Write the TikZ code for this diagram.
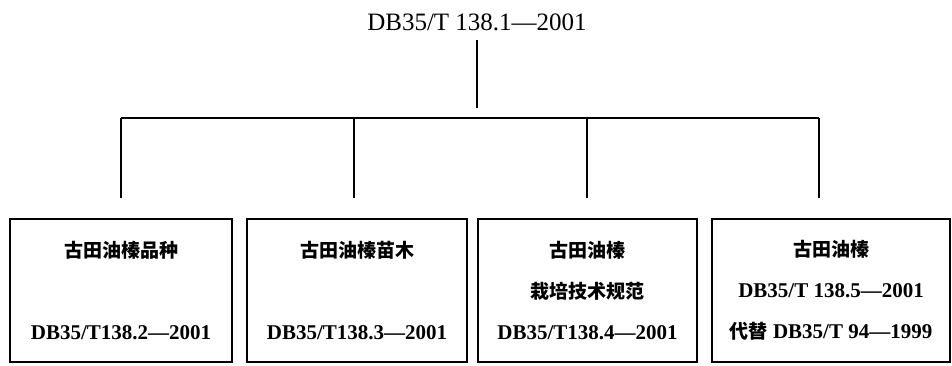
\documentclass[tikz,border=0pt]{standalone}
\usepackage{fontspec}
\setmainfont{Liberation Serif}
\newfontfamily\cjk{Noto Sans CJK SC}
\usetikzlibrary{positioning}
\tikzset{
  stdbox/.style={draw, line width=2.6pt, minimum height=143pt, inner sep=0pt,
    align=center, font=\bfseries\fontsize{21}{41}\selectfont},
  link/.style={line width=2.6pt}
}
\newcommand{\zh}[1]{{\cjk\fontsize{19}{41}\selectfont #1}}

\begin{document}
\begin{tikzpicture}[x=1pt,y=-1pt]
  \useasboundingbox (0,0) rectangle (952,366);

  % main standard
  \node[font=\fontsize{25}{30}\selectfont] (root) at (477,22) {DB35/T 138.1\textemdash2001};
  \coordinate (stem) at (477,108);
  \draw[link, shorten <=6pt] (root) -- (stem);

  % parts
  \node[stdbox, minimum width=222pt] (pz) at (121,290.5) {\zh{古田油榛品种}\\[41pt]DB35/T138.2\textemdash2001};
  \node[stdbox, minimum width=220pt] (mm) at (357,290.5) {\zh{古田油榛苗木}\\[41pt]DB35/T138.3\textemdash2001};
  \node[stdbox, minimum width=219pt] (zp) at (587.5,290.5) {\zh{古田油榛}\\\zh{栽培技术规范}\\DB35/T138.4\textemdash2001};
  \node[stdbox, minimum width=238pt] (zt) at (831,290.5) {\zh{古田油榛}\\DB35/T 138.5\textemdash2001\\\zh{代替} DB35/T 94\textemdash1999};

  % bar and drops
  \foreach \n/\x in {pz/121, mm/354, zp/587, zt/819} {
    \coordinate (bar-\n) at (\x,118);
    \coordinate (end-\n) at (\x,198);
    \draw[link] (bar-\n) -- (end-\n);
  }
  \draw[link] (bar-pz) -- (bar-zt);
\end{tikzpicture}
\end{document}
